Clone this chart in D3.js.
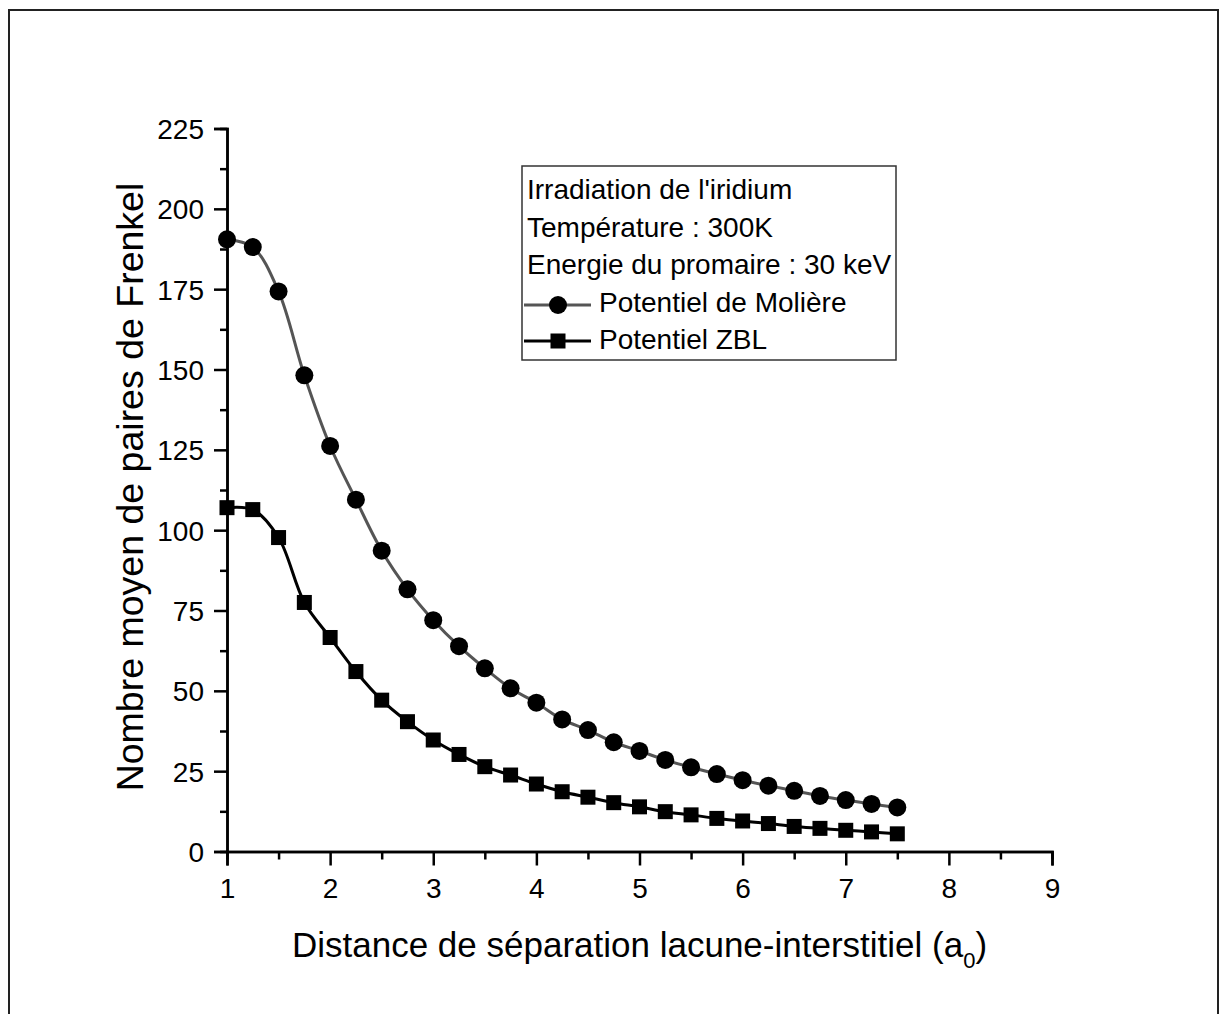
<!DOCTYPE html>
<html>
<head>
<meta charset="utf-8">
<script src="https://cdn.jsdelivr.net/npm/d3@7"></script>
<style>
  body { margin: 0; background: #fff; }
  svg { display: block; font-family: "Liberation Sans", Arial, sans-serif; }
</style>
</head>
<body>
<div id="container"></div>
<script>
const w = 1220, h = 1014;

// data
const distances = [1, 1.25, 1.5, 1.75, 2, 2.25, 2.5, 2.75, 3, 3.25, 3.5, 3.75, 4, 4.25, 4.5,
    4.75, 5, 5.25, 5.5, 5.75, 6, 6.25, 6.5, 6.75, 7, 7.25, 7.5];
const moliere = [190.5, 188.1, 174.3, 148.2, 126.2, 109.5, 93.6, 81.6, 72.0, 63.9, 57.0, 50.8, 46.3, 41.1, 37.8,
    34.0, 31.3, 28.5, 26.2, 24.1, 22.2, 20.5, 18.9, 17.3, 16.0, 14.8, 13.7];
const zbl = [107.0, 106.4, 97.7, 77.5, 66.6, 56.0, 47.1, 40.4, 34.7, 30.2, 26.4, 23.8, 21.0, 18.6, 16.9,
    15.2, 13.9, 12.4, 11.4, 10.3, 9.5, 8.7, 7.8, 7.2, 6.6, 6.1, 5.5];
const xTicks = [1, 2, 3, 4, 5, 6, 7, 8, 9];
const yTicks = [0, 25, 50, 75, 100, 125, 150, 175, 200, 225];
const legendLines = ["Irradiation de l'iridium", "Température : 300K", "Energie du promaire : 30 keV"];
const seriesNames = ["Potentiel de Molière", "Potentiel ZBL"];

const xScale = d3.scaleLinear().domain([1, 9]).range([227, 1052]);
const yScale = d3.scaleLinear().domain([0, 225]).range([851.5, 128.5]);

const svg = d3.select("#container").append("svg")
    .attr("width", w).attr("height", h);

// outer frame
svg.append("rect")
    .attr("x", 9).attr("y", 10).attr("width", 1209).attr("height", 1020)
    .attr("fill", "none").attr("stroke", "#222").attr("stroke-width", 2);

// axes
const xAxis = d3.axisBottom(xScale).tickValues(xTicks).tickSize(14).tickPadding(13).tickFormat(d3.format("d"));
const xMinor = d3.axisBottom(xScale).tickValues(d3.range(1.5, 9, 1)).tickSize(8).tickFormat("");
const yAxis = d3.axisLeft(yScale).tickValues(yTicks).tickSize(13).tickPadding(10).tickFormat(d3.format("d"));
const yMinor = d3.axisLeft(yScale).tickValues(d3.range(12.5, 225, 25)).tickSize(7).tickFormat("");

const gx = svg.append("g").attr("id", "x-axis").attr("transform", "translate(0," + yScale(0) + ")");
gx.call(xAxis);
gx.append("g").call(xMinor);
const gy = svg.append("g").attr("id", "y-axis").attr("transform", "translate(" + xScale(1) + ",0)");
gy.call(yAxis);
gy.append("g").call(yMinor);

svg.selectAll("#x-axis .domain, #y-axis .domain").attr("stroke", "#000").attr("stroke-width", 2.5);
svg.selectAll("#x-axis g g .domain, #y-axis g g .domain").remove();
svg.selectAll(".tick line").attr("stroke", "#000").attr("stroke-width", 2.5);
svg.selectAll(".tick text").attr("fill", "#000").style("font-size", "28px")
    .style("font-family", '"Liberation Sans", Arial, sans-serif');
gy.selectAll(".tick text").attr("dy", "0.36em");

// axis titles
const xt = svg.append("text")
    .attr("x", (297 + 982) / 2).attr("y", 957)
    .attr("text-anchor", "middle").style("font-size", "35px");
xt.append("tspan").text("Distance de séparation lacune-interstitiel (a");
xt.append("tspan").text("0").attr("dy", 11).style("font-size", "22px");
xt.append("tspan").text(")").attr("dy", -11);

svg.append("text")
    .attr("transform", "translate(143," + 487 + ") rotate(-90)")
    .attr("text-anchor", "middle").style("font-size", "37.5px")
    .text("Nombre moyen de paires de Frenkel");

// series
const line = d3.line().curve(d3.curveCatmullRom)
    .x((d, i) => xScale(distances[i])).y(d => yScale(d));

svg.append("path").datum(moliere).attr("d", line)
    .attr("fill", "none").attr("stroke", "#555").attr("stroke-width", 3);
svg.append("path").datum(zbl).attr("d", line)
    .attr("fill", "none").attr("stroke", "#000").attr("stroke-width", 3);

svg.selectAll("circle.dot").data(moliere).enter()
    .append("circle").attr("class", "dot")
    .attr("cx", (d, i) => xScale(distances[i]))
    .attr("cy", d => yScale(d))
    .attr("r", 9).attr("fill", "#000");

const sq = 15;
svg.selectAll("rect.sq").data(zbl).enter()
    .append("rect").attr("class", "sq")
    .attr("x", (d, i) => xScale(distances[i]) - sq / 2)
    .attr("y", d => yScale(d) - sq / 2)
    .attr("width", sq).attr("height", sq).attr("fill", "#000");

// legend
const legend = svg.append("g").attr("id", "legend");
legend.append("rect").attr("x", 522).attr("y", 166).attr("width", 374).attr("height", 194)
    .attr("fill", "#fff").attr("stroke", "#333").attr("stroke-width", 1.5);
const baselines = [199, 237, 274, 312, 349];
legendLines.forEach((t, i) => {
    legend.append("text").attr("x", 527).attr("y", baselines[i])
        .style("font-size", "28px").text(t);
});
const symY = [305, 341];
legend.append("line").attr("x1", 524).attr("x2", 591).attr("y1", symY[0]).attr("y2", symY[0])
    .attr("stroke", "#555").attr("stroke-width", 3);
legend.append("circle").attr("cx", 558).attr("cy", symY[0]).attr("r", 9).attr("fill", "#000");
legend.append("line").attr("x1", 524).attr("x2", 591).attr("y1", symY[1]).attr("y2", symY[1])
    .attr("stroke", "#000").attr("stroke-width", 3);
legend.append("rect").attr("x", 558 - sq / 2).attr("y", symY[1] - sq / 2)
    .attr("width", sq).attr("height", sq).attr("fill", "#000");
seriesNames.forEach((t, i) => {
    legend.append("text").attr("x", 599).attr("y", baselines[3 + i])
        .style("font-size", "28px").text(t);
});
</script>
</body>
</html>
